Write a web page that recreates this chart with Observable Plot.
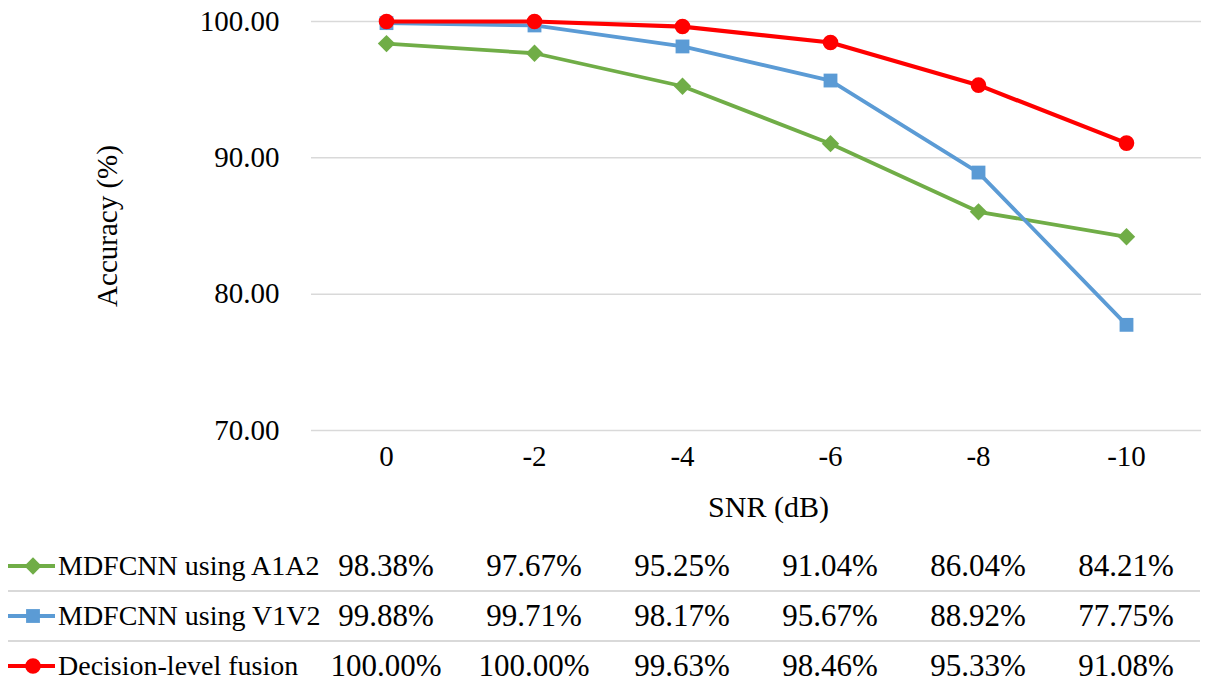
<!DOCTYPE html>
<html>
<head>
<meta charset="utf-8">
<script src="https://cdn.jsdelivr.net/npm/d3@7"></script>
<script src="https://cdn.jsdelivr.net/npm/@observablehq/plot@0.6"></script>
<style>
  body { margin: 0; background: #fff; font-family: "Liberation Serif", "Times New Roman", serif; color: #000; }
  #wrap { position: relative; width: 1207px; height: 699px; overflow: hidden; }
  #table { position: absolute; left: 0; top: 530px; width: 1207px; height: 169px; }
  .cell { position: absolute; width: 160px; height: 50px; line-height: 50px; text-align: center; font-size: 31px; white-space: nowrap; }
  .name { position: absolute; left: 58px; height: 50px; line-height: 50px; font-size: 28px; white-space: nowrap; }
  .sep { position: absolute; left: 8px; width: 1192px; height: 0; border-top: 2px solid #d9d9d9; }
</style>
</head>
<body>
<div id="wrap"><div id="chart"></div><div id="table"></div></div>
<script>
const snr = ["0", "-2", "-4", "-6", "-8", "-10"];
const a1a2 = [98.38, 97.67, 95.25, 91.04, 86.04, 84.21];
const v1v2 = [99.88, 99.71, 98.17, 95.67, 88.92, 77.75];
const fusion = [100.00, 100.00, 99.63, 98.46, 95.33, 91.08];
const seriesNames = ["MDFCNN using A1A2", "MDFCNN using V1V2", "Decision-level fusion"];
const seriesColors = ["#70AD47", "#5B9BD5", "#FF0000"];
const seriesSymbols = ["diamond2", "square", "circle"];
const yTicks = [70, 80, 90, 100];

const seriesValues = [a1a2, v1v2, fusion];
const rows = seriesNames.flatMap((name, i) =>
  snr.map((s, j) => ({series: name, snr: s, value: seriesValues[i][j]})));

const font = "'Liberation Serif', 'Times New Roman', serif";

const seriesMarks = seriesNames.flatMap((name, i) => {
  const data = rows.filter(d => d.series === name);
  return [
    Plot.line(data, {x: "snr", y: "value", stroke: seriesColors[i], strokeWidth: i === 2 ? 4.2 : 3.8}),
    Plot.dot(data, {x: "snr", y: "value", symbol: () => seriesSymbols[i], fill: seriesColors[i], r: 7.8, stroke: null})
  ];
});

const chart = Plot.plot({
  width: 1207,
  height: 530,
  marginLeft: 311,
  marginRight: 6,
  marginTop: 21,
  marginBottom: 100,
  style: {fontFamily: font, fontSize: "29px", color: "#000", background: "white", overflow: "visible"},
  x: {type: "point", domain: snr, padding: 0.5, label: null},
  y: {domain: [70, 100], label: null},
  symbol: {type: "identity"},
  marks: [
    Plot.gridY(yTicks, {stroke: "#d9d9d9", strokeOpacity: 1, strokeWidth: 1.5}),
    Plot.axisY(yTicks, {tickSize: 0, tickPadding: 32, tickFormat: d => d.toFixed(2), fontSize: 29,
      label: "Accuracy (%)", labelAnchor: "center", labelOffset: 215, labelArrow: "none"}),
    Plot.axisX({tickSize: 0, tickPadding: 15, fontSize: 29, label: null}),
    Plot.text(["SNR (dB)"], {frameAnchor: "bottom", lineAnchor: "bottom", dx: 12, dy: 86, fontSize: 30}),
    ...seriesMarks
  ]
});
document.getElementById("chart").appendChild(chart);

// Data table below the chart, columns aligned with the chart's x scale
const xs = chart.scale("x");
const table = d3.select("#table");
const rowCenters = [36, 86, 136];
[61, 111].forEach(t => table.append("div").attr("class", "sep").style("top", (t - 1) + "px"));

seriesNames.forEach((name, i) => {
  const cy = rowCenters[i];
  const key = table.append("svg").attr("width", 60).attr("height", 30)
    .style("position", "absolute").style("left", "0px").style("top", (cy - 15) + "px");
  key.append("line").attr("x1", 8).attr("x2", 55).attr("y1", 15).attr("y2", 15)
    .attr("stroke", seriesColors[i]).attr("stroke-width", 3.8);
  key.append("path").attr("transform", "translate(33,15)")
    .attr("d", d3.symbol(seriesSymbols[i] === "circle" ? d3.symbolCircle : seriesSymbols[i] === "square" ? d3.symbolSquare : d3.symbolDiamond2, Math.PI * 7.8 * 7.8)())
    .attr("fill", seriesColors[i]);
  table.append("div").attr("class", "name").style("top", (cy - 25) + "px").text(name);
  snr.forEach((s, j) => {
    table.append("div").attr("class", "cell")
      .style("left", (xs.apply(s) - 80) + "px")
      .style("top", (cy - 25) + "px")
      .text(seriesValues[i][j].toFixed(2) + "%");
  });
});
</script>
</body>
</html>
